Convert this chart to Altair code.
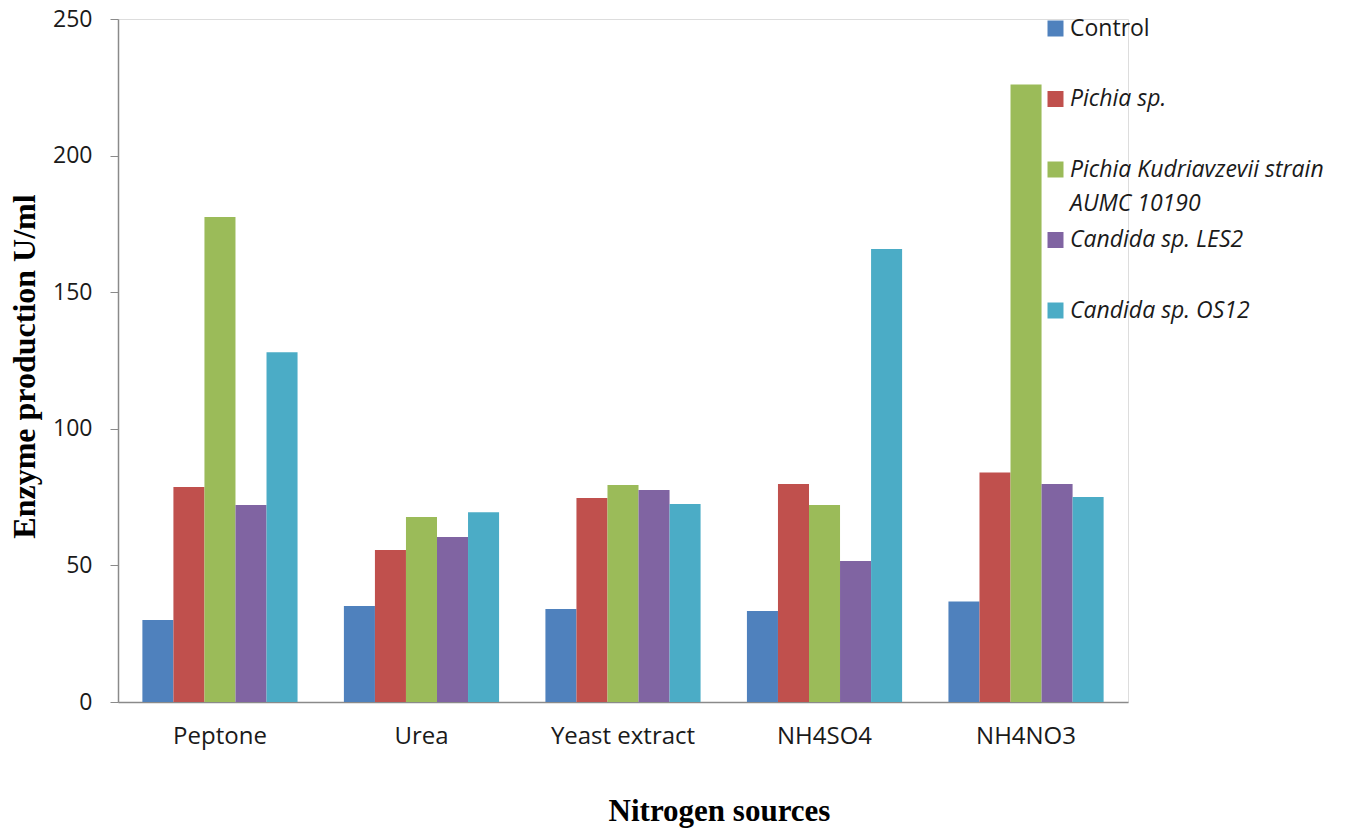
import altair as alt
import pandas as pd

# Nitrogen sources (x categories) and yeast strains (series)
sources = ["Peptone", "Urea", "Yeast extract", "NH4SO4", "NH4NO3"]
strains = [
    "Control",
    "Pichia sp.",
    "Pichia Kudriavzevii strain AUMC 10190",
    "Candida sp. LES2",
    "Candida sp. OS12",
]
colors = ["#4F81BD", "#C0504D", "#9BBB59", "#8064A2", "#4BACC6"]

# Enzyme production (U/ml) per nitrogen source, one list per strain
control = [30.0, 35.1, 34.0, 33.3, 36.8]
pichia = [78.7, 55.6, 74.7, 79.8, 84.0]
kudriavzevii = [177.5, 67.7, 79.4, 72.1, 226.0]
les2 = [72.1, 60.4, 77.6, 51.6, 79.8]
os12 = [128.0, 69.5, 72.5, 165.8, 75.0]

# The long strain name wraps onto a second legend line
wrap_first = "Pichia Kudriavzevii strain"
wrap_second = ["AUMC 10190"]

series = [control, pichia, kudriavzevii, les2, os12]
records = []
for strain, vals in zip(strains, series):
    for src, v in zip(sources, vals):
        records.append({"source": src, "strain": strain, "value": v})
df = pd.DataFrame(records)

label_expr = (
    f"datum.value == '{strains[2]}' ? '{wrap_first}' : datum.label"
)

legend_common = dict(
    title=None,
    orient="none",
    legendX=926,
    padding=0,
    symbolType="square",
    symbolSize=256,
    symbolStrokeWidth=0,
    labelFont="Open Sans",
    labelFontSize=23,
    labelColor="#1a1a1a",
    labelOffset=3,
    labelLimit=400,
)

bars = (
    alt.Chart(df)
    .mark_bar()
    .encode(
        x=alt.X(
            "source:N",
            sort=sources,
            scale=alt.Scale(paddingInner=0.23, paddingOuter=0.121),
            axis=alt.Axis(
                title="Nitrogen sources",
                labelAngle=0,
                ticks=False,
                labelFont="Open Sans",
                labelFontSize=24,
                labelColor="#1a1a1a",
                labelPadding=22,
                domainColor="#8a8a8a",
                domainWidth=1.5,
                titleFont="Liberation Serif",
                titleFontSize=31,
                titleFontWeight="bold",
                titleColor="#000000",
                titleX=601,
                titleY=118,
                titleBaseline="alphabetic",
                titleAlign="center",
            ),
        ),
        xOffset=alt.XOffset(
            "strain:N",
            sort=strains,
            scale=alt.Scale(paddingInner=0, paddingOuter=0),
        ),
        y=alt.Y(
            "value:Q",
            scale=alt.Scale(domain=[0, 250], nice=False),
            axis=alt.Axis(
                title="Enzyme production U/ml",
                values=[0, 50, 100, 150, 200, 250],
                grid=False,
                tickSize=8,
                tickColor="#8a8a8a",
                domainColor="#8a8a8a",
                domainWidth=1.5,
                labelFont="Open Sans",
                labelFontSize=23,
                labelColor="#1a1a1a",
                labelPadding=18,
                titleFont="Liberation Serif",
                titleFontSize=32,
                titleFontWeight="bold",
                titleColor="#000000",
                titleX=-84,
                titleY=347,
                titleBaseline="alphabetic",
                titleAlign="center",
            ),
        ),
        color=alt.Color(
            "strain:N",
            sort=strains,
            scale=alt.Scale(domain=strains, range=colors),
            legend=alt.Legend(
                legendY=-2,
                symbolOpacity=1,
                labelExpr=label_expr,
                labelFontStyle={"expr": "datum.value == 'Control' ? 'normal' : 'italic'"},
                rowPadding=46.5,
                **legend_common,
            ),
        ),
    )
)

# Second line of the wrapped legend label, as its own symbol-less legend
wrap_line = (
    alt.Chart(pd.DataFrame({"line": wrap_second}))
    .mark_point(opacity=0)
    .encode(
        shape=alt.Shape(
            "line:N",
            scale=alt.Scale(domain=wrap_second, range=["square"]),
            legend=alt.Legend(
                legendY=173,
                symbolOpacity=0,
                labelFontStyle="italic",
                **legend_common,
            ),
        ),
    )
)

chart = (
    alt.layer(bars, wrap_line)
    .properties(
        width=1010,
        height=683,
        autosize=alt.AutoSizeParams(type="none"),
        padding={"left": 118, "top": 19, "right": 244, "bottom": 135},
    )
    .configure_view(stroke=None)
    .configure(background="#ffffff")
)

chart.save("out.html", embed_options={"renderer": "svg", "actions": False})
